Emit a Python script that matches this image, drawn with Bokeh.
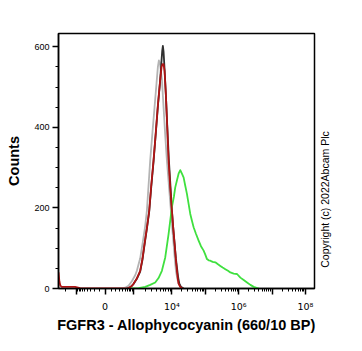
import math
from bokeh.plotting import figure
from bokeh.layouts import row
from bokeh.models import FixedTicker, Label, Range1d
from bokeh.embed import file_html
from bokeh.resources import INLINE

# x values are positions on the biexponential display axis (0 -> 2, 10^4 -> 4, 10^5 -> 5 ...)
grey_x = [2.50, 2.60, 2.70, 2.80, 2.90, 2.95, 3.05, 3.12, 3.20, 3.25, 3.30, 3.35, 3.42, 3.48, 3.54,
          3.58, 3.61, 3.64, 3.70, 3.75, 3.80, 3.85, 3.92, 3.97, 4.02, 4.05, 4.09, 4.12, 4.16, 4.20,
          4.25, 4.32]
grey_y = [0, 2, 7, 18, 33, 44, 75, 111, 155, 193, 255, 318, 390, 450, 510,
          550, 566, 560, 520, 450, 380, 318, 245, 193, 140, 111, 70, 44, 25, 12,
          4, 0]

black_x = [2.65, 2.75, 2.85, 2.95, 3.05, 3.12, 3.18, 3.25, 3.32, 3.38, 3.45, 3.52, 3.58, 3.64, 3.68,
           3.71, 3.73, 3.75, 3.78, 3.82, 3.86, 3.91, 3.96, 4.00, 4.04, 4.08, 4.12, 4.16, 4.19, 4.22,
           4.27, 4.35]
black_y = [0, 3, 11, 24, 42, 72, 108, 148, 190, 250, 315, 388, 452, 508, 555,
           590, 602, 588, 545, 480, 405, 318, 250, 195, 150, 113, 74, 46, 26, 13,
           4, 0]

green_x = [2.70, 3.00, 3.20, 3.35, 3.50, 3.60, 3.70, 3.80, 3.90, 4.00, 4.06, 4.10, 4.15, 4.20, 4.25,
           4.30, 4.35, 4.40, 4.45, 4.50, 4.55, 4.60, 4.65, 4.72, 4.80, 4.87, 4.95, 5.00, 5.05, 5.10,
           5.15, 5.22, 5.30, 5.38, 5.45, 5.52, 5.60, 5.68, 5.75, 5.85, 5.95, 6.05, 6.15, 6.25, 6.35,
           6.45, 6.60]
green_y = [0, 1, 4, 9, 15, 26, 44, 77, 135, 202, 228, 251, 268, 285, 294,
           285, 276, 255, 235, 210, 185, 168, 152, 136, 119, 105, 94, 84, 73, 70,
           69, 66, 65, 60, 56, 52, 48, 44, 40, 37, 36, 27, 21, 15, 9,
           4, 0]

red_x = [0.604, 0.63, 0.66, 0.70, 1.10, 1.25, 1.40, 2.60, 2.70, 2.80, 2.85, 2.95, 3.05, 3.12, 3.18,
         3.25, 3.32, 3.38, 3.45, 3.52, 3.58, 3.64, 3.69, 3.72, 3.75, 3.78, 3.82, 3.86, 3.90, 3.95,
         4.00, 4.04, 4.08, 4.12, 4.15, 4.18, 4.20, 4.25, 4.32]
red_y = [40, 18, 7, 4, 4, 1, 0, 0, 1, 6, 12, 25, 44, 75, 111,
         150, 193, 255, 318, 390, 455, 510, 550, 557, 557, 540, 480, 400, 318, 250,
         193, 150, 111, 70, 44, 22, 12, 4, 0]

x_major_values = [-1e3, 0, 1e3, 1e4, 1e5, 1e6, 1e7, 1e8]
x_major_labels = ["", "0", "", "10⁴", "", "10⁶", "", "10⁸"]
y_major = [0, 200, 400, 600]
y_minor = [50, 100, 150, 250, 300, 350, 450, 500, 550]
copyright_text = "Copyright (c) 2022Abcam Plc"


def xpos(v):
    a = abs(v)
    s = 1 if v >= 0 else -1
    if a <= 1000:
        return 2 + s * 0.85 * math.asinh(a / 200) / math.asinh(5)
    if a <= 1e4:
        return 2 + s * (0.85 + 1.15 * math.log10(a / 1000))
    return 2 + s * (2 + math.log10(a / 1e4))


x_major = [xpos(v) for v in x_major_values]
x_minor = []
for m in range(1, 10):
    for sgn in (1, -1):
        x_minor.append(xpos(sgn * m * 100))
for m in range(2, 10):
    x_minor.append(xpos(-m * 1000))
    for k in range(3, 8):
        x_minor.append(xpos(m * 10 ** k))

FONT = "Liberation Sans"

p = figure(width=317, height=351, output_backend="svg", toolbar_location=None,
           x_range=Range1d(0.604, 8.27), y_range=Range1d(0, 633),
           min_border_left=58, min_border_right=3, min_border_top=33, min_border_bottom=63)
p.xgrid.visible = False
p.ygrid.visible = False
p.outline_line_color = "black"
p.outline_line_width = 1.5
p.background_fill_color = "white"
p.border_fill_color = "white"

kw = dict(line_width=1.8, line_join="round")
p.line(grey_x, grey_y, line_color="#b4b4b4", **kw)
p.line(black_x, black_y, line_color="#303030", **kw)
p.line(green_x, green_y, line_color="#3fe03f", **kw)
p.line(red_x, red_y, line_color="#b01414", **kw)

p.xaxis.ticker = FixedTicker(ticks=x_major, minor_ticks=x_minor)
p.xaxis.major_label_overrides = {t: l for t, l in zip(x_major, x_major_labels)}
p.yaxis.ticker = FixedTicker(ticks=y_major, minor_ticks=y_minor)

for ax in (p.xaxis[0], p.yaxis[0]):
    ax.axis_line_width = 1.5
    ax.major_tick_line_width = 1.5
    ax.major_tick_in = 0
    ax.minor_tick_in = 0
    ax.major_tick_out = 6
    ax.minor_tick_out = 3
    ax.major_label_text_font = FONT
    ax.major_label_text_font_size = "9px"
    ax.major_label_text_color = "black"
    ax.axis_label_text_font = FONT
    ax.axis_label_text_font_style = "bold"
    ax.axis_label_text_font_size = "14.5px"
    ax.axis_label_text_color = "black"

p.xaxis.major_label_text_font = "DejaVu Sans"
p.xaxis.major_label_text_font_size = "9.5px"
p.xaxis.axis_label = "FGFR3 - Allophycocyanin (660/10 BP)"
p.yaxis.axis_label = "Counts"
p.xaxis.major_label_standoff = 6
p.yaxis.major_label_standoff = 3
p.xaxis.axis_label_standoff = 2
p.yaxis.axis_label_standoff = 9

# narrow side panel carrying the vertical copyright note
side = figure(width=45, height=351, output_backend="svg", toolbar_location=None,
              x_range=Range1d(0, 1), y_range=Range1d(0, 1),
              min_border_left=0, min_border_right=0, min_border_top=0, min_border_bottom=0)
side.axis.visible = False
side.xgrid.visible = False
side.ygrid.visible = False
side.outline_line_color = None
side.background_fill_color = "white"
side.border_fill_color = "white"
side.add_layout(Label(x=0.17, y=0.349, text=copyright_text, angle=math.pi / 2,
                      text_align="center", text_baseline="middle", text_font=FONT,
                      text_font_size="10.5px", text_color="black"))

layout = row(p, side, spacing=0)
open("out.html", "w").write(file_html(layout, INLINE))
